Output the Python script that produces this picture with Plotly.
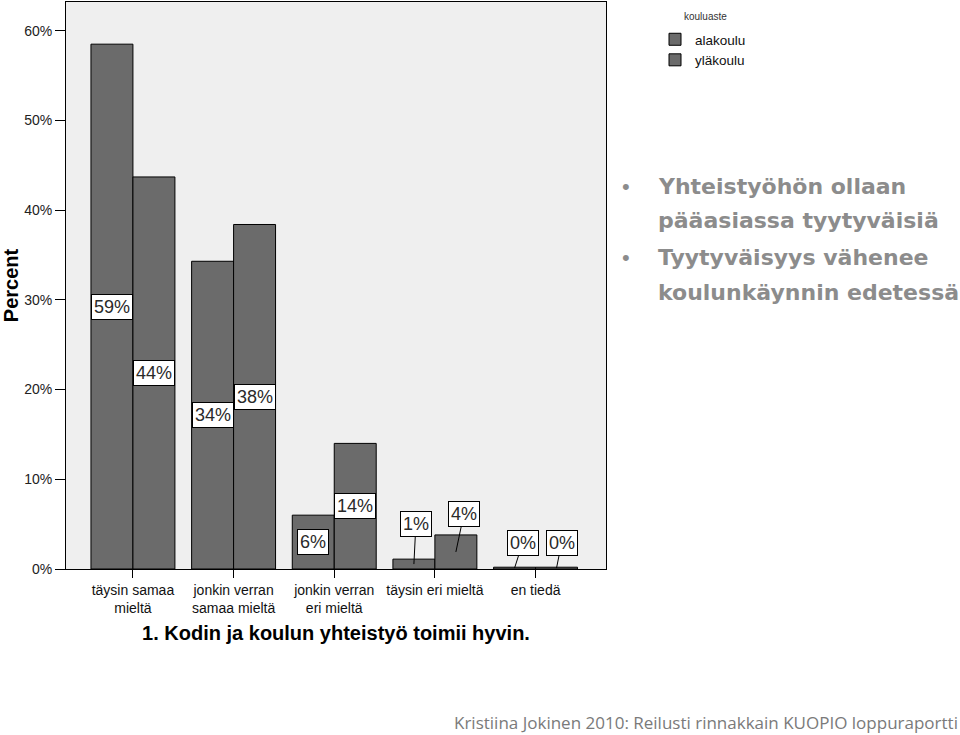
import plotly.graph_objects as go

categories = ["täysin samaa<br>mieltä", "jonkin verran<br>samaa mieltä",
              "jonkin verran<br>eri mieltä", "täysin eri mieltä", "en tiedä"]
series_names = ["alakoulu", "yläkoulu"]
alakoulu = [58.5, 34.3, 6.0, 1.1, 0.2]
ylakoulu = [43.7, 38.4, 14.0, 3.8, 0.2]
alakoulu_labels = ["59%", "34%", "6%", "1%", "0%"]
ylakoulu_labels = ["44%", "38%", "14%", "4%", "0%"]
y_ticks = [0, 10, 20, 30, 40, 50, 60]
y_tick_labels = ["0%", "10%", "20%", "30%", "40%", "50%", "60%"]

W, H = 960, 735
L, R, T, B = 66, 354, 2, 166
PW, PH = W - L - R, H - T - B


def px(xp):
    return (xp - L) / PW


def py(yp):
    return (H - B - yp) / PH


BAR_COLOR = "#6b6b6b"
BARGAP = 0.166
fig = go.Figure()
for name, vals in zip(series_names, [alakoulu, ylakoulu]):
    fig.add_trace(go.Bar(x=list(range(len(categories))), y=vals, name=name,
                         marker=dict(color=BAR_COLOR, line=dict(color="black", width=1))))

half = (1 - BARGAP) / 4
label_font = dict(family="Liberation Sans, Arial", size=18, color="#2a2a2a")
# small bars get a leader line: (ax, ay) pixel offsets for label boxes
leader = {(0, 3): (2, -40), (1, 3): (8, -38), (0, 4): (8, -25), (1, 4): (5, -25)}
for s, (vals, labs) in enumerate([(alakoulu, alakoulu_labels), (ylakoulu, ylakoulu_labels)]):
    for i, (v, t) in enumerate(zip(vals, labs)):
        xpos = i + (-half if s == 0 else half)
        common = dict(x=xpos, y=v / 2, xref="x", yref="y", text=t, bgcolor="white",
                      bordercolor="black", borderwidth=1, borderpad=2, font=label_font)
        if (s, i) in leader:
            ax, ay = leader[(s, i)]
            fig.add_annotation(**common, showarrow=True, arrowhead=0, arrowwidth=1,
                               arrowcolor="black", ax=ax, ay=ay)
        else:
            fig.add_annotation(**common, showarrow=False)

# Right-side bullet text
bullets = [("Yhteistyöhön ollaan", True), ("pääasiassa tyytyväisiä", False),
           ("Tyytyväisyys vähenee", True), ("koulunkäynnin edetessä", False)]
ys = [186, 220, 257, 292]
for (txt, b), yy in zip(bullets, ys):
    fig.add_annotation(x=px(656), y=py(yy), xref="paper", yref="paper", text=txt,
                       showarrow=False, xanchor="left", yanchor="middle",
                       font=dict(family="DejaVu Sans", size=22, color="#8c8c8c", weight="bold"))
    if b:
        fig.add_annotation(x=px(626), y=py(yy), xref="paper", yref="paper", text="•",
                           showarrow=False, xanchor="center", yanchor="middle",
                           font=dict(family="Liberation Sans", size=22, color="#8c8c8c"))

fig.add_annotation(x=px(960), y=py(723), xref="paper", yref="paper",
                   text="Kristiina Jokinen 2010: Reilusti rinnakkain KUOPIO loppuraportti",
                   showarrow=False, xanchor="right", yanchor="middle",
                   font=dict(family="Open Sans", size=17, color="#7a7a7a"))

# legend title (SPSS style, small, above the items)
fig.add_annotation(x=px(682), y=py(16), xref="paper", yref="paper", text="kouluaste",
                   showarrow=False, xanchor="left", yanchor="middle",
                   font=dict(family="Liberation Sans", size=10, color="#333"))

fig.update_layout(
    width=W, height=H,
    margin=dict(l=L, r=R, t=T, b=B),
    paper_bgcolor="white", plot_bgcolor="#efefef",
    barmode="group", bargap=BARGAP, bargroupgap=0,
    showlegend=True,
    legend=dict(x=px(655), y=py(24), xanchor="left", yanchor="top",
                font=dict(family="Liberation Sans", size=13.5, color="#111"),
                tracegroupgap=0, itemwidth=30, bgcolor="rgba(0,0,0,0)"),
    xaxis=dict(tickmode="array", tickvals=list(range(len(categories))), ticktext=categories,
               range=[-0.665, 4.70], showline=True, linecolor="black", mirror=True,
               ticks="outside", ticklen=8, tickcolor="black",
               tickfont=dict(family="Liberation Sans", size=14, color="#111"),
               title=dict(text="<b>1. Kodin ja koulun yhteistyö toimii hyvin.</b>",
                          font=dict(family="Liberation Sans", size=20, color="black"), standoff=10),
               showgrid=False, zeroline=False),
    yaxis=dict(range=[0, 63.2], tickmode="array", tickvals=y_ticks, ticktext=y_tick_labels,
               showline=True, linecolor="black", mirror=True,
               ticks="outside", ticklen=10, tickcolor="black",
               tickfont=dict(family="Liberation Sans", size=14, color="#222"),
               title=dict(text="<b>Percent</b>", font=dict(family="Liberation Sans", size=20, color="black"),
                          standoff=0),
               showgrid=False, zeroline=False),
)

fig.write_html("out.html")
